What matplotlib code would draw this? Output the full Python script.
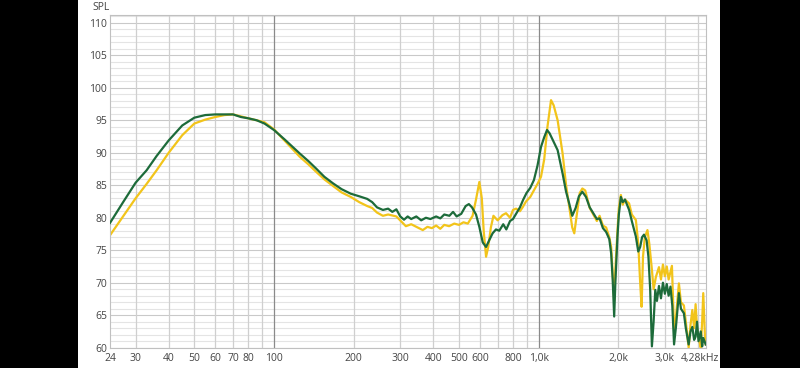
import numpy as np
import matplotlib
matplotlib.use("Agg")
import matplotlib.pyplot as plt
import matplotlib.transforms as mtransforms
from matplotlib.patches import Rectangle

# frequency response (Hz, dB SPL)
green_f = [24, 27, 30, 33, 36, 40, 45, 50, 55, 60, 65, 70, 75, 80, 86, 92, 100, 110, 125, 135,
           144, 155, 167, 180, 195, 210, 225, 235, 245, 258, 270, 280, 290, 300, 310, 320, 330, 345, 360, 375,
           390, 410, 425, 440, 460, 475, 490, 510, 530, 545, 560, 580, 597, 615, 633, 650, 670, 690, 710, 735,
           755, 780, 800, 822, 850, 875, 900, 930, 960, 990, 1021, 1050, 1076, 1100, 1130, 1180, 1232, 1270, 1305, 1340,
           1380, 1420, 1463, 1510, 1560, 1620, 1660, 1700, 1750, 1800, 1850, 1880, 1905, 1930, 1950, 1986, 2010, 2046, 2080, 2120,
           2198, 2250, 2300, 2331, 2380, 2420, 2460, 2502, 2560, 2600, 2640, 2680, 2720, 2760, 2800, 2850, 2900, 2950, 3000, 3050,
           3100, 3150, 3200, 3250, 3300, 3390, 3450, 3540, 3600, 3690, 3750, 3810, 3870, 3920, 3970, 4020, 4100, 4150, 4190, 4280]
green_db = [79.2, 82.5, 85.4, 87.3, 89.5, 91.9, 94.2, 95.4, 95.8, 95.9, 95.9, 95.9, 95.5, 95.3, 95.0, 94.5, 93.5, 92.0, 89.9, 88.7,
            87.6, 86.3, 85.3, 84.4, 83.7, 83.3, 82.9, 82.4, 81.6, 81.2, 81.4, 80.9, 81.3, 80.2, 79.7, 80.2, 79.8, 80.2, 79.6, 80.0,
            79.8, 80.2, 79.9, 80.5, 80.3, 80.9, 80.2, 80.6, 81.8, 82.1, 81.6, 80.5, 78.6, 76.2, 75.5, 76.5, 77.6, 78.2, 78.0, 79.0,
            78.2, 79.5, 79.8, 80.6, 81.6, 82.8, 83.8, 84.6, 85.8, 88.0, 90.9, 92.4, 93.5, 93.0, 92.0, 90.4, 86.8, 84.0, 82.2, 80.3,
            81.5, 83.3, 84.0, 83.2, 81.6, 80.5, 79.8, 79.9, 78.4, 77.8, 76.7, 74.5, 70.5, 64.8, 70.0, 77.1, 80.5, 83.2, 82.4, 82.8,
            81.2, 79.5, 78.0, 77.1, 74.8, 75.5, 77.0, 77.4, 76.5, 74.0, 69.0, 60.2, 64.0, 68.9, 67.2, 69.5, 67.6, 70.0, 68.3, 69.8,
            68.0, 69.4, 66.5, 60.5, 63.0, 68.4, 66.0, 65.3, 63.0, 60.5, 62.5, 63.2, 61.2, 61.7, 64.0, 61.0, 62.5, 60.2, 61.5, 60.5]

yellow_f = [24, 27, 30, 33, 36, 40, 45, 50, 55, 60, 65, 70, 75, 80, 86, 92, 100, 110, 125, 135,
            144, 155, 167, 180, 195, 210, 225, 235, 245, 258, 270, 290, 303, 315, 330, 345, 365, 380, 395, 410,
            425, 440, 459, 480, 500, 520, 540, 563, 580, 597, 610, 620, 633, 645, 660, 675, 700, 730, 753, 780,
            800, 822, 850, 870, 896, 930, 963, 990, 1021, 1050, 1080, 1114, 1140, 1180, 1232, 1270, 1305, 1340, 1364, 1400,
            1430, 1463, 1500, 1560, 1620, 1660, 1700, 1750, 1800, 1850, 1880, 1905, 1930, 1950, 1986, 2010, 2046, 2080, 2120, 2198,
            2250, 2331, 2380, 2420, 2450, 2480, 2520, 2578, 2620, 2680, 2720, 2775, 2850, 2900, 2950, 3000, 3050, 3100, 3190, 3250,
            3300, 3390, 3450, 3540, 3600, 3690, 3750, 3810, 3870, 3920, 3970, 4050, 4100, 4150, 4190, 4250, 4280]
yellow_db = [77.3, 80.3, 83.0, 85.2, 87.3, 90.0, 92.7, 94.5, 95.1, 95.5, 95.8, 95.9, 95.6, 95.3, 95.0, 94.7, 93.6, 91.8, 89.4, 88.2,
             87.1, 85.9, 84.9, 83.9, 83.2, 82.4, 81.8, 81.5, 80.8, 80.3, 80.5, 80.2, 79.4, 78.7, 79.0, 78.6, 78.1, 78.6, 78.4, 78.8,
             78.3, 78.9, 78.7, 79.1, 78.9, 79.3, 79.1, 80.3, 82.8, 85.5, 83.0, 78.0, 74.0, 75.5, 78.5, 80.3, 79.6, 80.4, 80.7, 80.0,
             81.2, 81.4, 81.0, 81.6, 82.5, 83.2, 84.3, 85.2, 86.3, 89.0, 94.0, 98.1, 97.3, 95.0, 89.9, 85.0, 81.7, 78.5, 77.6, 81.0,
             83.8, 84.5, 84.2, 81.5, 80.3, 79.5, 80.3, 78.8, 78.5, 77.0, 75.5, 71.5, 67.3, 72.0, 78.0, 81.5, 83.5, 82.0, 82.8, 82.2,
             80.5, 79.65, 76.0, 70.0, 66.3, 74.0, 77.0, 78.1, 76.0, 72.0, 69.0, 70.9, 72.4, 70.5, 72.8, 71.0, 72.5, 70.5, 72.6, 62.7,
             64.5, 69.9, 67.0, 66.5, 64.0, 60.0, 63.5, 65.8, 63.0, 66.7, 63.0, 61.0, 60.0, 64.0, 68.4, 62.0, 60.5]

x_ticks = [24, 30, 40, 50, 60, 70, 80, 100, 200, 300, 400, 500, 600, 800, 1000, 2000, 3000, 4280]
x_labels = ["24", "30", "40", "50", "60", "70", "80", "100", "200", "300", "400", "500", "600", "800",
            "1,0k", "2,0k", "3,0k", "4,28kHz"]
x_grid = [30, 40, 50, 60, 70, 80, 90, 200, 300, 400, 500, 600, 700, 800, 900, 2000, 3000, 4000]
y_ticks = list(range(60, 111, 5))

plt.rcParams['font.family'] = ['Open Sans', 'DejaVu Sans']

fig = plt.figure(figsize=(8, 3.68), dpi=100, facecolor="white")
# black side bars of the screenshot
fig.add_artist(Rectangle((0, 0), 78 / 800, 1, transform=fig.transFigure,
                         facecolor="black", edgecolor="none"))
fig.add_artist(Rectangle((720 / 800, 0), 80 / 800, 1, transform=fig.transFigure,
                         facecolor="black", edgecolor="none"))
ax = fig.add_axes([110 / 800, 20.3 / 368, (705.7 - 110) / 800, (353 - 20.3) / 368])
ax.set_facecolor("white")

for y in range(60, 112):
    ax.axhline(y, color="#c9c9c9" if y % 5 == 0 else "#e4e4e4", lw=0.8, zorder=1)
for x in x_grid:
    ax.axvline(x, color="#cfcfcf", lw=0.9, zorder=1)
for x in [100, 1000]:
    ax.axvline(x, color="#8a8a8a", lw=0.9, zorder=1)

ax.plot(green_f, green_db, color="#1d6b3a", lw=1.6, zorder=3)
ax.plot(yellow_f, yellow_db, color="#f2c41a", lw=1.6, zorder=2)

ax.set_xscale("log")
ax.set_xlim(24, 4280)
ax.set_ylim(60, 111.2)
ax.set_xticks(x_ticks)
ax.set_xticklabels(x_labels)
ax.xaxis.set_minor_locator(matplotlib.ticker.NullLocator())
ax.set_yticks(y_ticks)
ax.tick_params(length=0, labelsize=7.5, colors="#444444")
ax.tick_params(axis="x", pad=4)
ax.tick_params(axis="y", pad=2)
for s in ax.spines.values():
    s.set_color("#c0c0c0")
    s.set_linewidth(0.8)

# last label sits right-aligned against the edge of the white panel
last = ax.get_xticklabels()[-1]
last.set_horizontalalignment("right")
last.set_transform(last.get_transform() + mtransforms.ScaledTranslation(13 / 100, 0, fig.dpi_scale_trans))

fig.text(101 / 800, 1 - 7 / 368, "SPL", ha="center", va="center", fontsize=7.5, color="#444444")

fig.savefig("out.png", dpi=100)
